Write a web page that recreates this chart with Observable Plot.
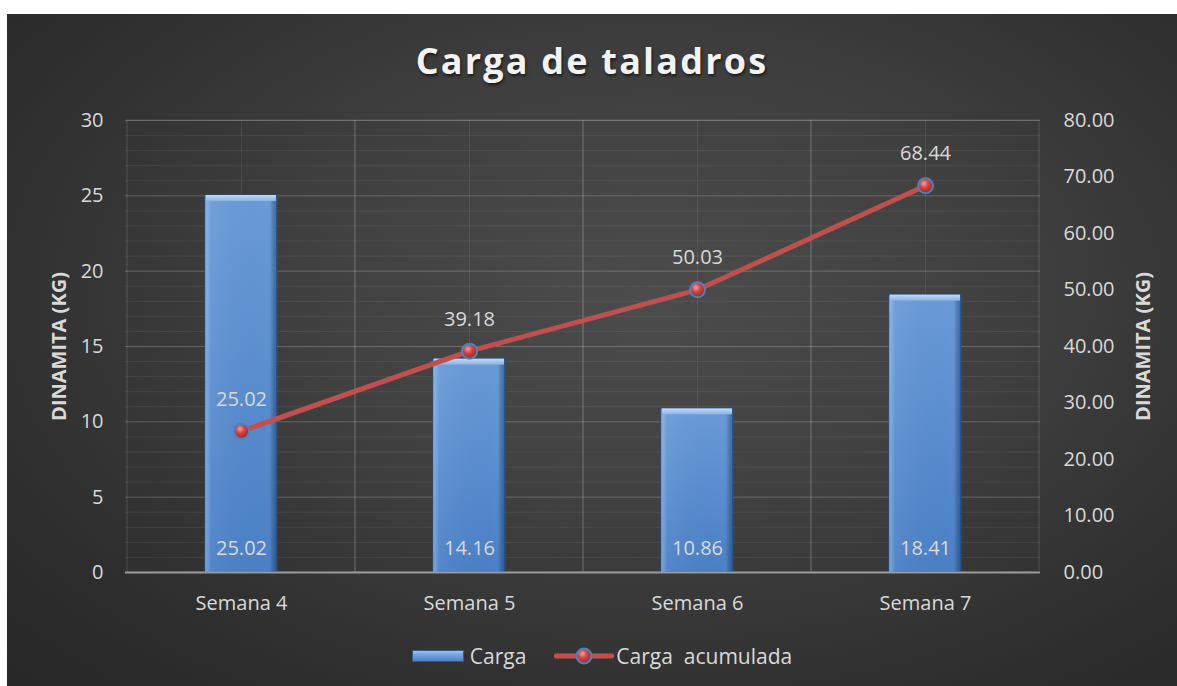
<!DOCTYPE html>
<html>
<head>
<meta charset="utf-8">
<script src="https://cdn.jsdelivr.net/npm/d3@7"></script>
<script src="https://cdn.jsdelivr.net/npm/@observablehq/plot@0.6"></script>
<style>
  html, body { margin: 0; padding: 0; background: #ffffff; }
  #chart {
    position: absolute; left: 7px; top: 14px; width: 1170px; height: 672px;
    background: radial-gradient(ellipse 75% 80% at 55% 42%, #4c4c4c 0%, #404040 40%, #2e2e2e 80%, #282828 100%);
    font-family: "Open Sans", sans-serif; overflow: hidden;
  }
  #title {
    position: absolute; left: 0; top: 25px; width: 100%; text-align: center;
    font-size: 36px; line-height: 44px; font-weight: 700; letter-spacing: 2.2px;
    color: #f2f2f2; text-shadow: 1px 2px 3px rgba(0,0,0,0.6);
  }
  #plot { position: absolute; left: 0; top: 86px; }
  #legend {
    position: absolute; left: 10px; top: 628px; width: 100%; height: 28px;
    display: flex; justify-content: center; align-items: center; gap: 0;
    color: #d9d9d9; font-size: 21px;
  }
  .item { display: flex; align-items: center; }
  .item svg { display: block; }
</style>
</head>
<body>
<div id="chart">
  <div id="title">Carga de taladros</div>
  <div id="plot"></div>
  <div id="legend">
    <div class="item" style="margin-right:28px">
      <svg width="52" height="14" style="margin-right:6px">
        <defs>
          <linearGradient id="lgBar" x1="0" y1="0" x2="0" y2="1">
            <stop offset="0" stop-color="#a9c8ee"/>
            <stop offset="0.35" stop-color="#7aa6de"/>
            <stop offset="1" stop-color="#4a7fc4"/>
          </linearGradient>
        </defs>
        <rect x="0.5" y="1.5" width="51" height="11" fill="url(#lgBar)" stroke="#2f5b8f" stroke-width="1"/>
      </svg>
      <span>Carga</span>
    </div>
    <div class="item">
      <svg width="60" height="20" style="margin-right:2px">
        <defs>
          <radialGradient id="lgDot" cx="0.4" cy="0.35" r="0.65">
            <stop offset="0" stop-color="#f4a0a0"/>
            <stop offset="0.45" stop-color="#d04444"/>
            <stop offset="1" stop-color="#9a2828"/>
          </radialGradient>
        </defs>
        <line x1="2" y1="10" x2="58" y2="10" stroke="#c0504d" stroke-width="5" stroke-linecap="round"/>
        <circle cx="30" cy="10" r="7.5" fill="url(#lgDot)" stroke="#4f81bd" stroke-width="2"/>
      </svg>
      <span style="white-space:pre">Carga  acumulada</span>
    </div>
  </div>
</div>
<script>
// ---- data ----
const categories = ["Semana 4", "Semana 5", "Semana 6", "Semana 7"];
const carga = [25.02, 14.16, 10.86, 18.41];
const cargaAcumulada = [25.02, 39.18, 50.03, 68.44];
const leftTicks = [0, 5, 10, 15, 20, 25, 30];
const rightTicks = [0, 10, 20, 30, 40, 50, 60, 70, 80];
const leftMax = 30, rightMax = 80;

const data = categories.map((c, i) => ({semana: c, carga: carga[i], acum: cargaAcumulada[i]}));
const toLeft = v => v * leftMax / rightMax;
const minorTicks = d3.range(0, leftMax + 1, 1);

const txt = "#d9d9d9";

const plot = Plot.plot({
  width: 1170,
  height: 528,
  marginTop: 20,
  marginBottom: 56,
  marginLeft: 118,
  marginRight: 137,
  style: {background: "transparent", fontFamily: "Open Sans, sans-serif", fontSize: "20px", color: txt, overflow: "visible"},
  x: {domain: categories, padding: 0, axis: null},
  y: {domain: [0, leftMax], axis: null},
  marks: [
    // minor grid
    Plot.ruleY(minorTicks, {stroke: "#ffffff", strokeOpacity: 0.07, strokeWidth: 1}),
    // major grid
    Plot.ruleY(leftTicks, {stroke: "#ffffff", strokeOpacity: 0.16, strokeWidth: 1}),
    // vertical grid at category centers
    Plot.ruleX(categories, {y1: 0, y2: leftMax, stroke: "#ffffff", strokeOpacity: 0.08}),
    // vertical grid at category boundaries
    Plot.barY(categories, {x: d => d, y1: 0, y2: leftMax, fill: "none", stroke: "#ffffff", strokeOpacity: 0.14}),
    // bars
    Plot.barY(data, {x: "semana", y: "carga", fill: "url(#barGrad)", stroke: "#2a5486", strokeWidth: 1, insetLeft: 78, insetRight: 78}),
    Plot.barY(data, {x: "semana", y: "carga", fill: "url(#barShade)", insetLeft: 78, insetRight: 78}),
    Plot.barY(data, {x: "semana", y1: d => d.carga - 0.4, y2: "carga", fill: "url(#bevelGrad)", insetLeft: 79, insetRight: 79}),
    // baseline axis line
    Plot.ruleY([0], {stroke: "#9a9a9a", strokeWidth: 2}),
    // line on secondary axis
    Plot.line(data, {x: "semana", y: d => toLeft(d.acum), stroke: "#c0504d", strokeWidth: 5}),
    Plot.dot(data, {x: "semana", y: d => toLeft(d.acum), r: 7.5, fill: "url(#dotGrad)", stroke: "#4f81bd", strokeWidth: 2}),
    // labels
    Plot.text(data, {x: "semana", y: d => toLeft(d.acum), text: d => d.acum.toFixed(2), dy: -32, fill: txt, fontSize: 20}),
    Plot.text(data, {x: "semana", y: 0, text: d => d.carga.toFixed(2), dy: -24, fill: txt, fontSize: 20}),
    // axes
    Plot.axisY(leftTicks, {anchor: "left", tickSize: 0, tickPadding: 22, label: null, fill: txt, fontSize: 20}),
    Plot.axisY(rightTicks.map(toLeft), {anchor: "right", tickSize: 0, tickPadding: 23, label: null, fill: txt, fontSize: 20,
      tickFormat: d => (d * rightMax / leftMax).toFixed(2)}),
    Plot.axisX(categories, {anchor: "bottom", tickSize: 0, tickPadding: 23, label: null, fill: txt, fontSize: 20}),
    // axis titles
    Plot.text(["DINAMITA (KG)"], {frameAnchor: "left", textAnchor: "middle", rotate: -90, dx: -66, fill: txt, fontSize: 20, fontWeight: "bold"}),
    Plot.text(["DINAMITA (KG)"], {frameAnchor: "right", textAnchor: "middle", rotate: -90, dx: 103, fill: txt, fontSize: 20, fontWeight: "bold"})
  ]
});

const ns = "http://www.w3.org/2000/svg";
const defs = document.createElementNS(ns, "defs");
defs.innerHTML = `
  <linearGradient id="barGrad" x1="0" y1="0" x2="0" y2="1">
    <stop offset="0" stop-color="#6a9bd8"/>
    <stop offset="1" stop-color="#4a80c6"/>
  </linearGradient>
  <linearGradient id="barShade" x1="0" y1="0" x2="1" y2="0">
    <stop offset="0" stop-color="#a8c8ef" stop-opacity="0.45"/>
    <stop offset="0.08" stop-color="#ffffff" stop-opacity="0.05"/>
    <stop offset="0.9" stop-color="#000000" stop-opacity="0"/>
    <stop offset="1" stop-color="#0a2a55" stop-opacity="0.45"/>
  </linearGradient>
  <linearGradient id="bevelGrad" x1="0" y1="0" x2="0" y2="1">
    <stop offset="0" stop-color="#c4dbf5"/>
    <stop offset="1" stop-color="#8ab2e4"/>
  </linearGradient>
  <radialGradient id="dotGrad" cx="0.4" cy="0.35" r="0.65">
    <stop offset="0" stop-color="#f4a0a0"/>
    <stop offset="0.45" stop-color="#d04444"/>
    <stop offset="1" stop-color="#9a2828"/>
  </radialGradient>`;
plot.insertBefore(defs, plot.firstChild);
document.getElementById("plot").appendChild(plot);
</script>
</body>
</html>
